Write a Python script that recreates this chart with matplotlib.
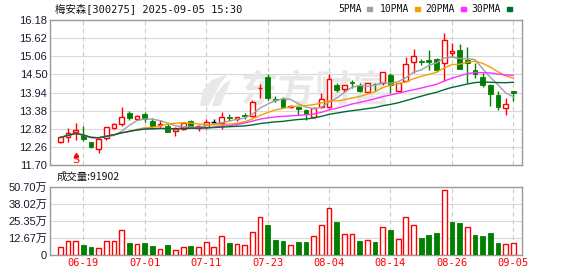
import matplotlib
matplotlib.use("Agg")
import matplotlib.pyplot as plt
from matplotlib.patches import Polygon
import numpy as np
import pandas as pd

# trading days shown
dates = ["06-16", "06-17", "06-18", "06-19", "06-20", "06-23", "06-24", "06-25", "06-26", "06-27", "06-30",
         "07-01", "07-02", "07-03", "07-04", "07-07", "07-08", "07-09", "07-10", "07-11", "07-14", "07-15",
         "07-16", "07-17", "07-18", "07-21", "07-22", "07-23", "07-24", "07-25", "07-28", "07-29", "07-30",
         "07-31", "08-01", "08-04", "08-05", "08-06", "08-07", "08-08", "08-11", "08-12", "08-13", "08-14",
         "08-15", "08-18", "08-19", "08-20", "08-21", "08-22", "08-25", "08-26", "08-27", "08-28", "08-29",
         "09-01", "09-02", "09-03", "09-04", "09-05"]

opens = [12.40, 12.56, 12.72, 12.63, 12.40, 12.19, 12.52, 12.85, 12.97, 13.30,
         13.11, 13.28, 13.07, 12.95, 12.92, 12.75, 12.80, 13.06, 12.85, 12.88,
         13.04, 13.01, 13.19, 13.11, 13.23, 13.22, 14.08, 14.43, 13.75, 13.74,
         13.50, 13.48, 13.40, 13.19, 13.48, 13.50, 14.17, 14.05, 14.25, 14.17,
         13.97, 14.21, 14.22, 14.48, 13.99, 14.31, 14.89, 14.90, 14.94, 14.97,
         14.86, 15.17, 15.25, 14.94, 14.64, 14.43, 14.17, 13.86, 13.47, 13.99]
closes = [12.55, 12.68, 12.79, 12.49, 12.25, 12.49, 12.86, 12.97, 13.17, 13.14,
          13.21, 13.13, 12.92, 12.97, 12.73, 12.81, 12.99, 12.88, 12.90, 13.02,
          13.04, 13.17, 13.16, 13.17, 13.20, 13.66, 14.09, 13.78, 13.72, 13.50,
          13.53, 13.43, 13.28, 13.45, 13.73, 14.35, 14.02, 14.17, 14.24, 13.99,
          14.22, 14.19, 14.56, 14.17, 14.24, 14.81, 15.07, 14.89, 14.87, 14.64,
          15.56, 15.21, 14.67, 14.84, 14.50, 14.17, 13.89, 13.50, 13.58, 13.91]
highs = [12.57, 12.83, 12.99, 12.91, 12.42, 12.52, 12.88, 13.01, 13.48, 13.38,
         13.25, 13.35, 13.14, 13.09, 12.97, 12.88, 13.00, 13.09, 12.95, 13.11,
         13.11, 13.35, 13.28, 13.19, 13.32, 13.71, 14.19, 14.50, 13.83, 13.81,
         13.56, 13.48, 13.42, 13.48, 13.94, 14.50, 14.24, 14.17, 14.33, 14.24,
         14.24, 14.24, 14.58, 14.53, 14.24, 15.03, 15.29, 14.98, 15.25, 15.00,
         15.79, 15.46, 15.44, 15.36, 14.86, 14.53, 14.19, 13.99, 13.76, 13.99]
lows = [12.39, 12.42, 12.47, 12.45, 12.23, 12.08, 12.47, 12.81, 12.91, 13.09,
        13.09, 13.04, 12.83, 12.88, 12.71, 12.60, 12.78, 12.84, 12.75, 12.81,
        12.97, 12.81, 13.07, 13.07, 13.11, 13.19, 13.78, 13.71, 13.66, 13.48,
        13.46, 13.25, 13.09, 13.14, 13.45, 13.45, 13.95, 13.95, 14.07, 13.97,
        13.95, 14.00, 14.17, 13.93, 13.99, 14.28, 14.53, 14.80, 14.64, 14.56,
        14.28, 15.05, 14.66, 14.22, 14.40, 14.12, 13.52, 13.40, 13.25, 13.68]
# volume in 万 (10k) shares
volumes = [5.8, 10.1, 10.1, 7.6, 5.8, 5.1, 10.1, 10.1, 18.5, 8.9,
           8.1, 8.9, 6.8, 4.3, 7.3, 3.5, 6.3, 6.8, 5.8, 9.6,
           5.8, 13.9, 8.9, 8.1, 7.3, 17.2, 28.6, 22.0, 11.4, 10.6,
           7.3, 9.9, 9.9, 14.2, 22.5, 34.7, 24.3, 15.7, 15.7, 10.6,
           11.1, 9.9, 21.0, 19.0, 11.9, 28.6, 22.5, 12.7, 15.2, 16.7,
           48.3, 24.3, 23.5, 21.0, 15.2, 14.4, 16.7, 9.1, 8.1, 9.19]

price_ticks = [11.70, 12.26, 12.82, 13.38, 13.94, 14.50, 15.06, 15.62, 16.18]
vol_ticks = [0, 12.67, 25.35, 38.02, 50.70]
vol_labels = ["0", "12.67万", "25.35万", "38.02万", "50.70万"]
label_idx = [3, 11, 19, 27, 35, 43, 51, 59]
ma_windows = [5, 10, 20, 30]
ma_names = ["5PMA", "10PMA", "20PMA", "30PMA"]
ma_colors = ["#a0a0a0", "#f0a000", "#ff30ff", "#006a30"]

RED = "#ff0000"
GREEN = "#008000"
GRID = "#d9d9d9"
SPINE = "#9a9a9a"
W, H = 578, 276

fig = plt.figure(figsize=(W / 100, H / 100), dpi=100)
fig.patch.set_facecolor("white")
ax = fig.add_axes([50 / W, (H - 165) / H, 472 / W, 145 / H])
axv = fig.add_axes([50 / W, (H - 255) / H, 472 / W, 68 / H])

x = np.arange(len(dates))
o = np.array(opens)
c = np.array(closes)
hi = np.array(highs)
lo = np.array(lows)

# watermark (behind the candles)
wm = "#e8e8e8"
ax.text(316 / W, 1 - 91 / H, "东方财富", fontsize=27, color=wm,
        family=["Noto Sans CJK SC"], fontweight="bold", ha="center", va="center",
        style="italic", transform=fig.transFigure, zorder=0.5)
leaf = [(200, 106), (203, 90), (212, 80), (228, 74), (220, 84), (214, 96), (208, 106)]
ax.add_patch(Polygon([(px / W, 1 - py / H) for px, py in leaf], closed=True,
                     transform=fig.transFigure, facecolor=wm, edgecolor="none", zorder=0.5))
leaf2 = [(212, 106), (216, 94), (224, 84), (231, 80), (226, 92), (220, 106)]
ax.add_patch(Polygon([(px / W, 1 - py / H) for px, py in leaf2], closed=True,
                     transform=fig.transFigure, facecolor=wm, edgecolor="none", zorder=0.5))

# candles
bw = 0.62
for i in x:
    top, bot = max(o[i], c[i]), min(o[i], c[i])
    if c[i] > o[i]:
        col = RED
        ax.bar(i, max(top - bot, 0.005), bottom=bot, width=bw, facecolor="white",
               edgecolor=col, linewidth=1, zorder=3)
    elif c[i] < o[i]:
        col = GREEN
        ax.bar(i, max(top - bot, 0.02), bottom=bot, width=bw, facecolor=col,
               edgecolor=col, linewidth=0.6, zorder=3)
    else:
        col = "black"
        ax.hlines(c[i], i - bw / 2, i + bw / 2, color=col, linewidth=1, zorder=3)
    ax.vlines(i, top, hi[i], color=col, linewidth=1, zorder=2)
    ax.vlines(i, lo[i], bot, color=col, linewidth=1, zorder=2)

# moving averages
cs = pd.Series(closes)
for win, col in zip(ma_windows, ma_colors):
    ax.plot(x, cs.rolling(win, min_periods=1).mean(), color=col, linewidth=1, zorder=4)

ax.text(2, 11.86, "S", color=RED, fontsize=8, ha="center", va="center", zorder=5)
ax.plot(2, 12.0, marker="^", color=RED, markersize=3, zorder=5)

ax.set_xlim(-1.34, 60.13)
ax.set_ylim(11.70, 16.18)
ax.set_yticks(price_ticks)
ax.set_yticklabels([f"{v:.2f}" for v in price_ticks], family="Liberation Sans",
                   fontsize=8, color="#1a1a2e")
ax.set_xticks([])
for v in price_ticks:
    ax.axhline(v, color=GRID, linewidth=0.8, zorder=0)
for i in label_idx:
    ax.axvline(i, color="#cccccc", linewidth=0.8, linestyle=(0, (4, 3)), zorder=0)
ax.tick_params(axis="y", length=0, pad=2)

# volume
prev = np.concatenate([[o[0]], c[:-1]])
for i in x:
    if c[i] >= prev[i]:
        axv.bar(i, volumes[i], width=bw, facecolor="white", edgecolor=RED,
                linewidth=1, zorder=3)
    else:
        axv.bar(i, volumes[i], width=bw, facecolor=GREEN, edgecolor=GREEN,
                linewidth=0.6, zorder=3)
axv.set_xlim(-1.34, 60.13)
axv.set_ylim(0, 50.70)
axv.set_yticks(vol_ticks)
axv.set_yticklabels(vol_labels, family=["Liberation Sans", "Noto Sans CJK SC"],
                    fontsize=8, color="#1a1a2e")
for v in vol_ticks[1:]:
    axv.axhline(v, color=GRID, linewidth=0.8, zorder=0)
for i in label_idx:
    axv.axvline(i, color="#cccccc", linewidth=0.8, linestyle=(0, (4, 3)), zorder=0)
axv.set_xticks(label_idx)
axv.set_xticklabels([dates[i] for i in label_idx], family="DejaVu Sans Mono",
                    fontsize=7.5, color=RED)
axv.tick_params(axis="both", length=0, pad=2)

for a in (ax, axv):
    for s in a.spines.values():
        s.set_color(SPINE)
        s.set_linewidth(1)

# header and legend
fig.text(55 / W, 1 - 9 / H, "梅安森[300275] 2025-09-05 15:30",
         family=["DejaVu Sans Mono", "Noto Sans CJK SC"], fontsize=7.5,
         ha="left", va="center", color="#111111")
lx = [338, 380, 425, 471]
sqx = [367, 415, 461, 507]
for px, sx, name, col in zip(lx, sqx, ma_names, ma_colors):
    fig.text(px / W, 1 - 9 / H, name, family="DejaVu Sans Mono", fontsize=7,
             ha="left", va="center", color="#111111")
    fig.patches.append(plt.Rectangle((sx / W, 1 - 11 / H), 5 / W, 4 / H,
                                     transform=fig.transFigure, color=col))

fig.text(57 / W, 1 - 177 / H, "成交量:91902", family=["Noto Sans CJK SC", "DejaVu Sans"],
         fontsize=7.5, ha="left", va="center", color="#111111")

fig.savefig("out.png", dpi=100)
